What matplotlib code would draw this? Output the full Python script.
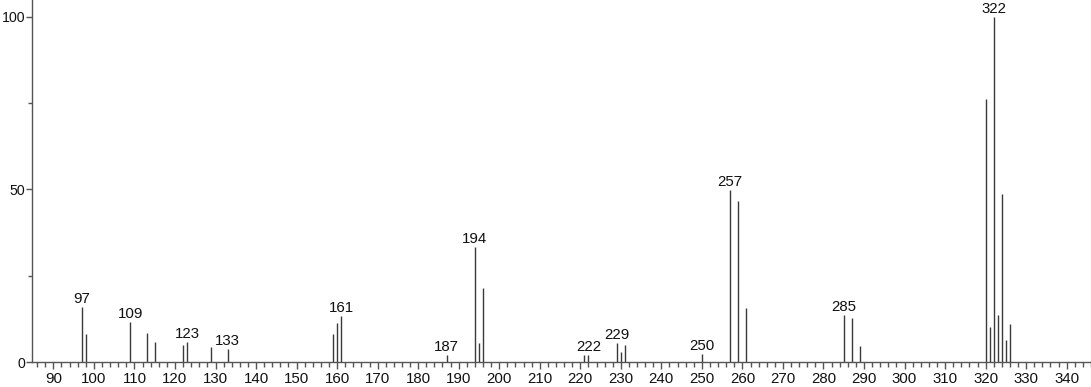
import matplotlib
matplotlib.use("Agg")
import matplotlib.pyplot as plt
from matplotlib.ticker import MultipleLocator

plt.rcParams['font.family'] = ['Liberation Sans', 'DejaVu Sans']

mz = [97, 98, 109, 113, 115, 122, 123, 129, 133, 159, 160, 161, 187,
      194, 195, 196, 221, 222, 229, 230, 231, 250, 257, 259, 261,
      285, 287, 289, 320, 321, 322, 323, 324, 325, 326]
intensity = [16, 8, 11.6, 8.4, 5.8, 5, 5.8, 4.3, 3.8, 8.1, 11.3, 13.3, 2,
             33.3, 5.5, 21.4, 2.1, 2.1, 5.5, 2.9, 5, 2.3, 49.8, 46.7, 15.7,
             13.6, 12.8, 4.6, 76, 10.1, 100, 13.6, 48.7, 6.4, 11]
labeled = [97, 109, 123, 133, 161, 187, 194, 222, 229, 250, 257, 285, 322]

fig = plt.figure(figsize=(10.91, 3.87), dpi=100)
left_px = 31.5
ax = fig.add_axes([left_px/1091, 25/387, 1 - left_px/1091, 362/387])

ax.vlines(mz, 0, intensity, colors='#3a3a3a', linewidth=1.0)
for m, v in zip(mz, intensity):
    if m in labeled:
        ax.annotate(str(m), (m, v), xytext=(0, 0.5), textcoords='offset points',
                    ha='center', va='bottom', fontsize=10.8, color='#111111')

ax.set_xlim(84.6, 346)
ax.set_ylim(0, 104.8)
ax.xaxis.set_major_locator(MultipleLocator(10))
ax.xaxis.set_minor_locator(MultipleLocator(2))
ax.set_xticks(range(90, 341, 10))
ax.yaxis.set_major_locator(MultipleLocator(50))
ax.yaxis.set_minor_locator(MultipleLocator(25))

for s in ['top', 'right']:
    ax.spines[s].set_visible(False)
for s in ['left', 'bottom']:
    ax.spines[s].set_color('#555555')
    ax.spines[s].set_linewidth(1.0)

ax.tick_params(axis='x', which='major', direction='out', length=5, width=1,
               color='#555555', labelsize=10.8, pad=2, labelcolor='#111111')
ax.tick_params(axis='x', which='minor', direction='out', length=3.5, width=1,
               color='#555555')
ax.tick_params(axis='y', which='major', direction='out', length=4.5, width=1,
               color='#555555', labelsize=10.2, pad=0, labelcolor='#111111')
ax.tick_params(axis='y', which='minor', direction='out', length=3, width=1,
               color='#555555')

fig.savefig('out.png', dpi=100)
